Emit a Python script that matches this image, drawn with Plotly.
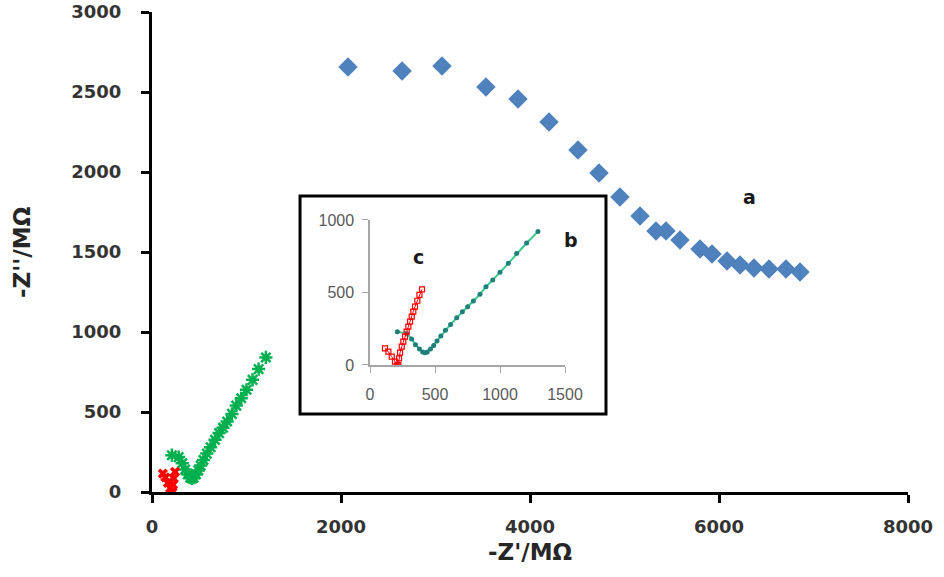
import plotly.graph_objects as go

# Series a (main plot, blue diamonds)
a_x = [2074, 2646, 3069, 3534, 3873, 4201, 4508, 4730, 4952, 5164, 5333, 5439,
       5587, 5799, 5926, 6085, 6222, 6370, 6529, 6709, 6857]
a_y = [2656, 2631, 2662, 2531, 2456, 2312, 2137, 1994, 1844, 1725, 1631, 1631,
       1575, 1519, 1487, 1444, 1419, 1400, 1394, 1394, 1375]

# Series b
b_x = [210, 282, 320, 350, 380, 405, 423, 440, 465, 490, 515, 545, 580, 620, 667,
       710, 751, 795, 846, 892, 944, 1000, 1064, 1128, 1205, 1292]
b_y = [230, 218, 180, 140, 110, 90, 85, 90, 110, 135, 165, 200, 240, 280, 326,
       368, 402, 441, 488, 540, 586, 639, 701, 768, 841, 921]

# Series c
c_x = [115, 141, 167, 192, 210, 218, 223, 231, 244, 256, 269, 282, 295, 308, 321,
       333, 346, 364, 380, 400]
c_y = [115, 92, 57, 23, 0, 0, 46, 85, 126, 161, 195, 230, 264, 299, 333,
       368, 402, 443, 483, 522]

# main plot shows b without its last point, c only in its low part
b_main_x, b_main_y = b_x[:-1], b_y[:-1]
c_main = [(x, y) for x, y in zip(c_x, c_y) if y <= 130]
c_main_x = [p[0] for p in c_main]
c_main_y = [p[1] for p in c_main]

main_x_ticks = [0, 2000, 4000, 6000, 8000]
main_y_ticks = [0, 500, 1000, 1500, 2000, 2500, 3000]
inset_x_ticks = [0, 500, 1000, 1500]
inset_y_ticks = [0, 500, 1000]

fig = go.Figure()

fig.add_trace(go.Scatter(x=a_x, y=a_y, mode="markers",
                         marker=dict(symbol="diamond", size=15, color="#4f81bd"),
                         xaxis="x", yaxis="y", showlegend=False))
fig.add_trace(go.Scatter(x=b_main_x, y=b_main_y, mode="markers",
                         marker=dict(symbol="asterisk-open", size=11, color="#00b050",
                                     line=dict(color="#00b050", width=2.5)),
                         xaxis="x", yaxis="y", showlegend=False))
fig.add_trace(go.Scatter(x=c_main_x, y=c_main_y, mode="markers",
                         marker=dict(symbol="x", size=9, color="#ff0000",
                                     line=dict(width=0)),
                         xaxis="x", yaxis="y", showlegend=False))

# inset traces
fig.add_trace(go.Scatter(x=b_x, y=b_y, mode="lines+markers",
                         line=dict(color="#3cc88c", width=2),
                         marker=dict(symbol="circle", size=5, color="#1f7f7a"),
                         xaxis="x2", yaxis="y2", showlegend=False))
fig.add_trace(go.Scatter(x=c_x, y=c_y, mode="lines+markers",
                         line=dict(color="#ff0000", width=1),
                         marker=dict(symbol="square-open", size=5, color="#ff0000",
                                     line=dict(color="#ff0000", width=1.2)),
                         xaxis="x2", yaxis="y2", showlegend=False))

tickfont_main = dict(family="DejaVu Sans", size=18, color="#333333", weight="bold")
tickfont_inset = dict(family="Liberation Sans", size=16, color="#595959")
title_font = dict(family="DejaVu Sans", size=23, color="#262626", weight="bold")
label_font = dict(family="DejaVu Sans", size=19, color="#1a1a1a", weight="bold")

fig.update_layout(
    width=944, height=577,
    margin=dict(l=152, r=36, t=12, b=85),
    paper_bgcolor="white", plot_bgcolor="white",
    xaxis=dict(domain=[0, 1], range=[0, 8000], tickvals=main_x_ticks,
               automargin=False,
               showgrid=False, zeroline=False, showline=True, linecolor="black",
               linewidth=3, ticks="outside", ticklen=8, tickwidth=3,
               tickcolor="black", tickfont=tickfont_main, ticklabelstandoff=8),
    yaxis=dict(domain=[0, 1], range=[0, 3000], tickvals=main_y_ticks,
               automargin=False,
               showgrid=False, zeroline=False, showline=True, linecolor="black",
               linewidth=3, ticks="outside", ticklen=8, tickwidth=3,
               tickcolor="black", tickfont=tickfont_main, ticklabelstandoff=16),
    xaxis2=dict(domain=[0.2884, 0.5463], range=[0, 1500], tickvals=inset_x_ticks,
                anchor="y2", automargin=False, showgrid=False, zeroline=False,
                showline=True, linecolor="#a6a6a6", linewidth=1.5, ticks="outside",
                ticklen=6, tickcolor="#a6a6a6", tickfont=tickfont_inset,
                ticklabelstandoff=8),
    yaxis2=dict(domain=[0.2646, 0.5667], range=[0, 1000], tickvals=inset_y_ticks,
                anchor="x2", automargin=False, showgrid=False, zeroline=False,
                showline=True, linecolor="#a6a6a6", linewidth=1.5, ticks="outside",
                ticklen=6, tickcolor="#a6a6a6", tickfont=tickfont_inset,
                ticklabelstandoff=5),
    shapes=[dict(type="rect", xref="paper", yref="paper",
                 x0=0.1958, x1=0.6005, y0=0.1625, y1=0.6167,
                 line=dict(color="black", width=3), fillcolor="white",
                 layer="below")],
    annotations=[
        dict(text="-Z'/MΩ", xref="paper", yref="paper", x=0.5, y=-0.125,
             xanchor="center", yanchor="middle", showarrow=False, font=title_font),
        dict(text="-Z''/MΩ", xref="paper", yref="paper", x=-0.172, y=0.5,
             xanchor="center", yanchor="middle", textangle=-90, showarrow=False,
             font=title_font),
        dict(text="a", xref="paper", yref="paper", x=0.790, y=0.615,
             xanchor="center", yanchor="middle", showarrow=False, font=label_font),
        dict(text="b", xref="paper", yref="paper", x=0.554, y=0.525,
             xanchor="center", yanchor="middle", showarrow=False, font=label_font),
        dict(text="c", xref="paper", yref="paper", x=0.353, y=0.49,
             xanchor="center", yanchor="middle", showarrow=False, font=label_font),
    ],
)

fig.write_html("out.html")
